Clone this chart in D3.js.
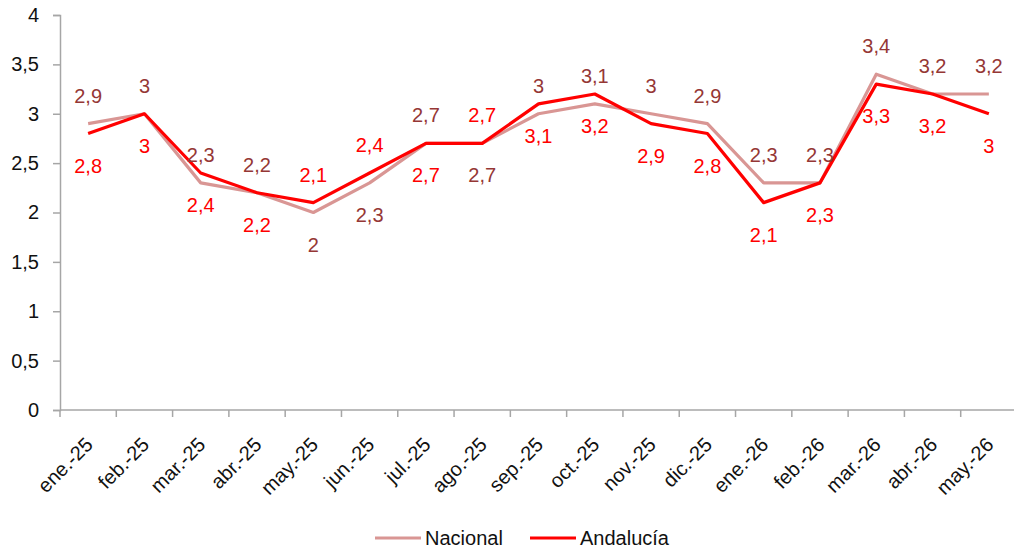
<!DOCTYPE html>
<html>
<head>
<meta charset="utf-8">
<script src="https://cdn.jsdelivr.net/npm/d3@7"></script>
<style>
  html, body { margin: 0; padding: 0; background: #fff; }
  svg { display: block; font-family: "Liberation Sans", Arial, sans-serif; }
</style>
</head>
<body>
<svg id="chart" width="1014" height="550"></svg>
<script>
// ---- Data ----
const categories = ["ene.-25","feb.-25","mar.-25","abr.-25","may.-25","jun.-25","jul.-25","ago.-25","sep.-25","oct.-25","nov.-25","dic.-25","ene.-26","feb.-26","mar.-26","abr.-26","may.-26"];
const nacional  = [2.9, 3.0, 2.3, 2.2, 2.0, 2.3, 2.7, 2.7, 3.0, 3.1, 3.0, 2.9, 2.3, 2.3, 3.4, 3.2, 3.2];
const andalucia = [2.8, 3.0, 2.4, 2.2, 2.1, 2.4, 2.7, 2.7, 3.1, 3.2, 2.9, 2.8, 2.1, 2.3, 3.3, 3.2, 3.0];
const yTicks = [0, 0.5, 1, 1.5, 2, 2.5, 3, 3.5, 4];
// label placement per point: "a" = above, "b" = below
const nacionalLabelPos  = ["a","a","a","a","b","b","a","b","a","a","a","a","a","a","a","a","a"];
const andaluciaLabelPos = ["b","b","b","b","a","a","b","a","b","b","b","b","b","b","b","b","b"];

(function () {
const fmt = v => String(v).replace(".", ",");

const svg = d3.select("#chart");
const mLeft = 60, mRight = 1017, mTop = 15, mBottom = 410;
const axisColor = "#a6a6a6";
const fontSize = 20;
const textColor = "#111";

const x = d3.scaleBand().domain(categories).range([mLeft, mRight]).padding(0);
const y = d3.scaleLinear().domain([0, 4]).range([mBottom, mTop]);
const cx = c => x(c) + x.bandwidth() / 2;

// Y axis
const yAxis = svg.append("g").attr("transform", `translate(${mLeft},0)`)
  .call(d3.axisLeft(y).tickValues(yTicks).tickSize(7).tickPadding(14).tickFormat(fmt));
yAxis.select(".domain").attr("stroke", axisColor).attr("stroke-width", 1.5);
yAxis.selectAll(".tick line").attr("stroke", axisColor).attr("stroke-width", 1.5);
yAxis.selectAll(".tick text").attr("font-size", fontSize).attr("fill", textColor)
  .attr("font-family", "Liberation Sans, Arial, sans-serif");

// X axis (ticks at band boundaries)
const xg = svg.append("g").attr("transform", `translate(0,${mBottom})`);
xg.append("line").attr("x1", mLeft).attr("x2", mRight).attr("y1", 0).attr("y2", 0)
  .attr("stroke", axisColor).attr("stroke-width", 1.5);
xg.selectAll("line.tk").data(categories).enter().append("line").attr("class", "tk")
  .attr("x1", d => x(d)).attr("x2", d => x(d)).attr("y1", 0).attr("y2", 7)
  .attr("stroke", axisColor).attr("stroke-width", 1.5);
xg.selectAll("text.xl").data(categories).enter().append("text").attr("class", "xl")
  .attr("transform", d => `translate(${cx(d) + 1},${31}) rotate(-45)`)
  .attr("text-anchor", "end")
  .attr("dominant-baseline", "central")
  .attr("font-size", fontSize).attr("fill", textColor)
  .text(d => d);

// Lines
const line = d3.line().x((d, i) => cx(categories[i])).y(d => y(d));
const series = [
  { name: "Nacional", values: nacional, color: "#d99694", labelColor: "#953735", pos: nacionalLabelPos },
  { name: "Andalucía", values: andalucia, color: "#ff0000", labelColor: "#ff0000", pos: andaluciaLabelPos }
];
series.forEach(s => {
  svg.append("path").datum(s.values).attr("d", line)
    .attr("fill", "none").attr("stroke", s.color).attr("stroke-width", 3.2)
    .attr("stroke-linejoin", "round");
});
series.forEach(s => {
  svg.append("g").selectAll("text").data(s.values).enter().append("text")
    .attr("x", (d, i) => cx(categories[i]))
    .attr("y", (d, i) => y(d) + (s.pos[i] === "a" ? -28 : 32))
    .attr("text-anchor", "middle").attr("dominant-baseline", "central")
    .attr("font-size", fontSize).attr("fill", s.labelColor)
    .text(d => fmt(d));
});

// Legend
const legend = [
  { name: "Nacional", color: "#d99694", x: 375 },
  { name: "Andalucía", color: "#ff0000", x: 530 }
];
const lg = svg.append("g");
legend.forEach(l => {
  lg.append("line").attr("x1", l.x).attr("x2", l.x + 46).attr("y1", 538).attr("y2", 538)
    .attr("stroke", l.color).attr("stroke-width", 3.2);
  lg.append("text").attr("x", l.x + 50).attr("y", 538).attr("dominant-baseline", "central")
    .attr("font-size", fontSize).attr("fill", textColor).text(l.name);
});
})();
</script>
</body>
</html>
